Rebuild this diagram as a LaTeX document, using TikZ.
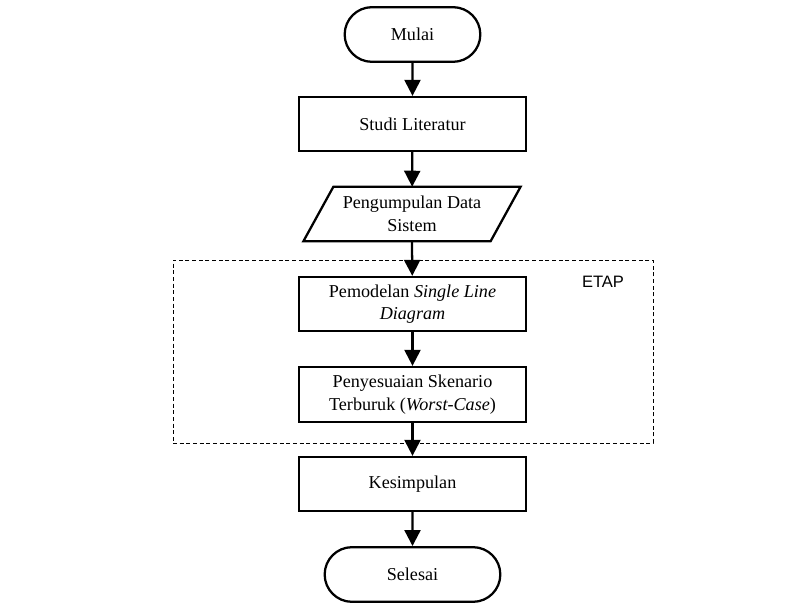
\documentclass[tikz,border=0pt]{standalone}
\usepackage{fontspec}
\setmainfont{Liberation Serif}
\newfontfamily\etapfont{Liberation Sans}
\usetikzlibrary{arrows.meta,shapes.misc}
\begin{document}
\begin{tikzpicture}[x=0.75pt,y=-0.75pt,
  txt/.style={font=\fontsize{13.6}{16.8}\selectfont, align=center},
  box/.style={txt, draw, line width=1.7pt, rectangle, minimum width=170.25pt, minimum height=40.5pt, inner sep=2pt},
  term/.style={txt, draw, line width=1.7pt, rounded rectangle, minimum height=41pt, inner sep=2pt},
  arr/.style={line width=1.7pt, -{Triangle[width=12pt,length=12pt]}},
  grp/.style={draw, dashed, line width=0.7pt, dash pattern=on 3pt off 2pt, minimum width=360pt, minimum height=137.25pt},
]
\fill[white] (0,0) rectangle (804,616);
\useasboundingbox (0,0) rectangle (804,616);

\node[grp] (etapbox) at (413,351.5) {};
\node[font=\etapfont\fontsize{12.4}{14}\selectfont] (etap) at (603,282) {ETAP};

\node[term, minimum width=105.75pt] (mulai) at (412.5,34.5) {Mulai};
\node[box] (studi) at (412.5,124) {Studi Literatur};
\node[txt, minimum width=140pt, minimum height=40.5pt, inner sep=0pt] (data) at (412,214) {Pengumpulan Data\\Sistem};
\draw[line width=1.7pt, line join=miter]
  ([xshift=-11.25pt]data.south west) -- ([xshift=-11.25pt]data.south east)
  -- ([xshift=11.25pt]data.north east) -- ([xshift=11.25pt]data.north west) -- cycle;
\node[box] (model) at (412.5,304) {Pemodelan \textit{Single Line}\\\textit{Diagram}};
\node[box, minimum height=41.25pt] (skenario) at (412.5,394.5) {Penyesuaian Skenario\\Terburuk (\textit{Worst-Case})};
\node[box] (simpul) at (412.5,484) {Kesimpulan};
\node[term, minimum width=135.75pt] (selesai) at (412.5,574.5) {Selesai};

\draw[arr] (mulai) -- (studi);
\draw[arr] (studi) -- (data);
\draw[arr] (data.south) -- (model);
\draw[arr] (model) -- (skenario);
\draw[arr] (skenario) -- (simpul);
\draw[arr] (simpul) -- (selesai);
\end{tikzpicture}
\end{document}
